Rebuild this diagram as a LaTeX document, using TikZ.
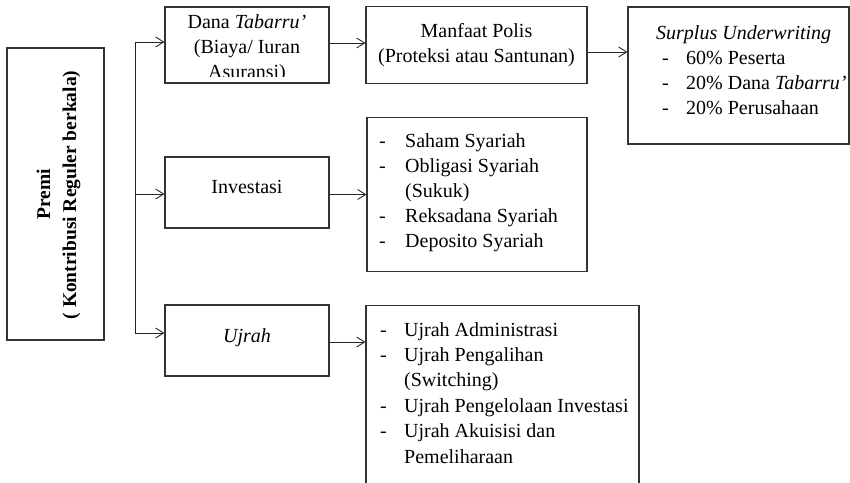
\documentclass[tikz,border=0pt]{standalone}
\usepackage{fontspec}
\setmainfont{Liberation Serif}
\usetikzlibrary{arrows.meta}
\begin{document}
\begin{tikzpicture}[x=1pt,y=-1pt,
  font=\fontsize{20}{25}\selectfont,
  box/.style={draw=black!80, line width=1.1pt, inner sep=0pt, rectangle},
  conn/.style={draw=black!85, line width=0.9pt},
  arr/.style={conn, -{Straight Barb[length=8pt,width=10pt,line width=0.9pt]}},
  txt/.style={inner sep=0pt, text=black}]
\clip (0,0) rectangle (850,482);
% boxes
\node[box, minimum width=97pt, minimum height=292pt] (premi) at (55.5,194) {};
\node[box, minimum width=164pt, minimum height=76pt] (dana) at (247,45) {};
\node[box, minimum width=221pt, minimum height=77pt] (manfaat) at (476.5,45) {};
\node[box, minimum width=221pt, minimum height=137pt] (surplus) at (738.5,75.5) {};
\node[box, minimum width=164pt, minimum height=71pt] (invest) at (247,192.5) {};
\node[box, minimum width=220pt, minimum height=154pt] (ilist) at (477,194.5) {};
\node[box, minimum width=164pt, minimum height=71pt] (ujrah) at (247,340.5) {};
\node[box, minimum width=273pt, minimum height=200pt] (ulist) at (502.5,405.5) {};
% texts
\node[txt, rotate=90, anchor=base, font=\fontsize{19.5}{25}\selectfont\bfseries] (premiA) at (50,194) {Premi};
\node[txt, rotate=90, anchor=base, font=\fontsize{19.5}{25}\selectfont\bfseries] (premiB) at (76,195) {( Kontribusi Reguler berkala)};
\begin{scope}
\clip (165,7) rectangle (329,76.5);
\node[txt, anchor=base] (danaT) at (247,28) {\begin{tabular}[t]{@{}c@{}}Dana \textit{Tabarru'}\\(Biaya/ Iuran\\Asuransi)\end{tabular}};
\end{scope}
\node[txt, anchor=base] (manfaatT) at (476.5,37) {\begin{tabular}[t]{@{}c@{}}Manfaat Polis\\(Proteksi atau Santunan)\end{tabular}};
\node[txt, anchor=base west] (surplusT) at (656,39) {\begin{tabular}[t]{@{\hspace{6pt}}p{24pt}@{}l@{}}\multicolumn{2}{@{}l@{}}{\textit{Surplus Underwriting}}\\
-&60\% Peserta\\
-&20\% Dana \textit{Tabarru'}\\
-&20\% Perusahaan\end{tabular}};
\node[txt, anchor=base] (investT) at (247,193) {Investasi};
\node[txt, anchor=base] (ujrahT) at (247,342) {\textit{Ujrah}};
\node[txt, anchor=base west] (ilistT) at (379,147) {\begin{tabular}[t]{@{}p{26pt}@{}l@{}}-&Saham Syariah\\
-&Obligasi Syariah\\
&(Sukuk)\\
-&Reksadana Syariah\\
-&Deposito Syariah\end{tabular}};
\node[txt, anchor=base west, font=\fontsize{20}{25.4}\selectfont] (ulistT) at (380,336) {\begin{tabular}[t]{@{}p{24pt}@{}l@{}}-&Ujrah Administrasi\\
-&Ujrah Pengalihan\\
&(Switching)\\
-&Ujrah Pengelolaan Investasi\\
-&Ujrah Akuisisi dan\\
&Pemeliharaan\end{tabular}};
% connectors
\coordinate (ttop) at (135,42);
\coordinate (tmid) at (135,194);
\coordinate (tbot) at (135,333);
\draw[conn] (ttop) -- (tbot);
\draw[arr] (ttop) -- (ttop -| dana.west);
\draw[arr] (tmid) -- (tmid -| invest.west);
\draw[arr] (tbot) -- (tbot -| ujrah.west);
\draw[arr] ([yshift=2pt]dana.east) -- ([yshift=2pt]dana.east -| manfaat.west);
\draw[arr] ([yshift=-7pt]manfaat.east) -- ([yshift=-7pt]manfaat.east -| surplus.west);
\draw[arr] ([yshift=-2pt]invest.east) -- ([yshift=-2pt]invest.east -| ilist.west);
\draw[arr] ([yshift=-1.5pt]ujrah.east) -- ([yshift=-1.5pt]ujrah.east -| ulist.west);
\end{tikzpicture}
\end{document}
